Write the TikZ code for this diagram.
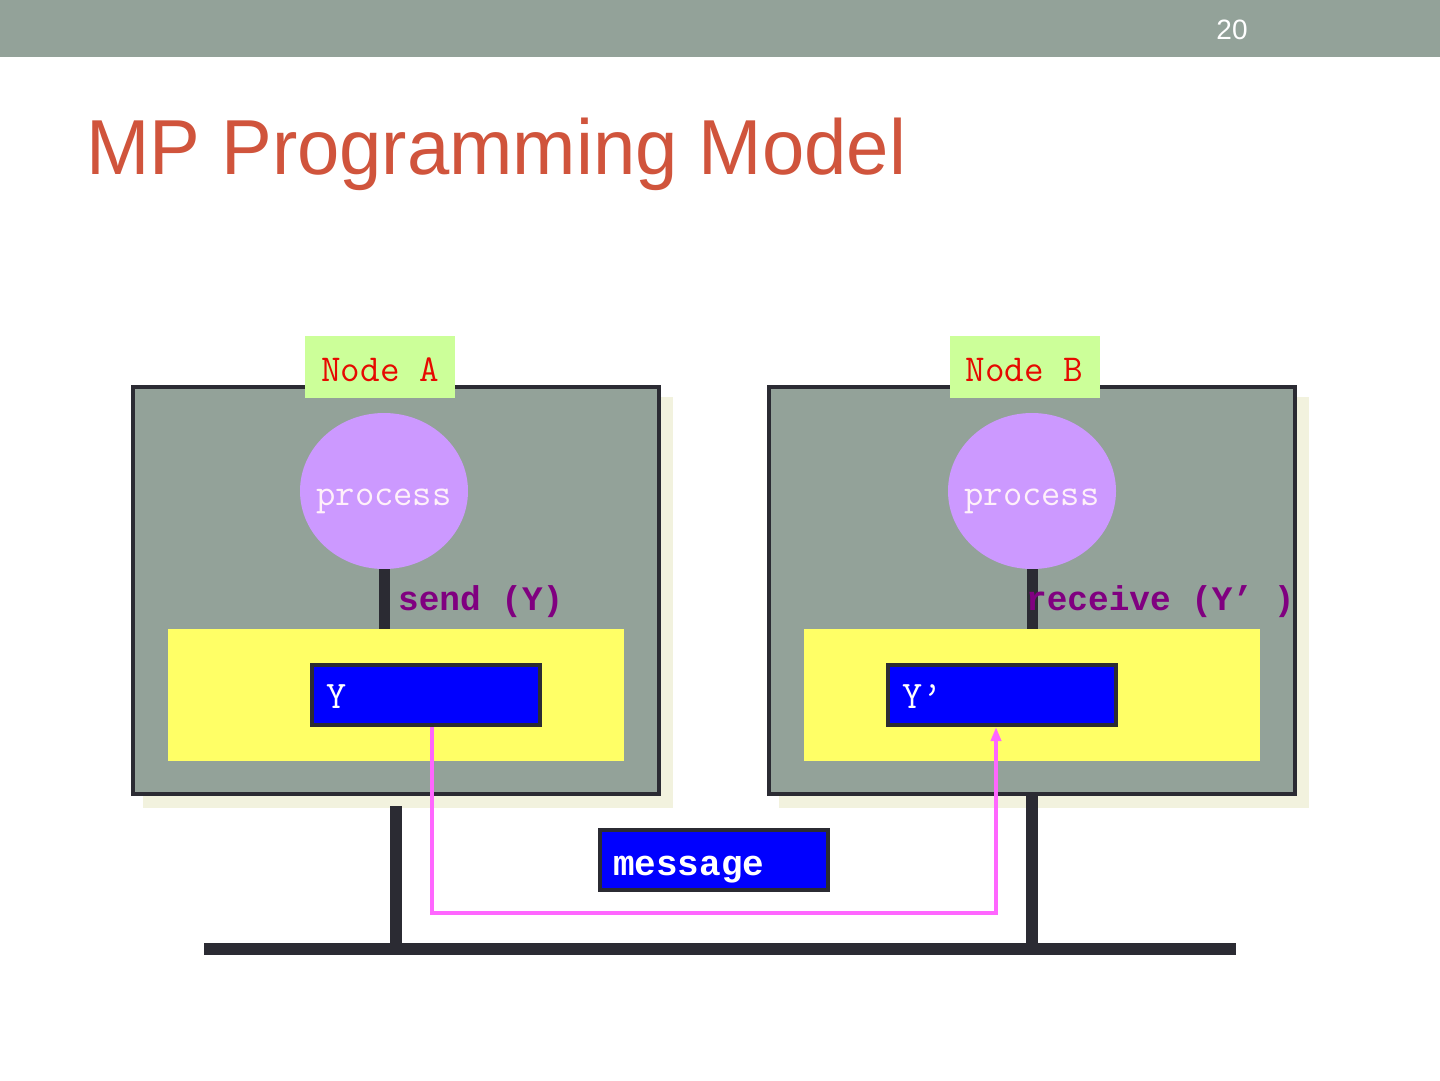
\documentclass[tikz,border=0pt]{standalone}
\usepackage{fontspec}
\usepackage{graphicx}
\newfontfamily\arialf{Liberation Sans}
\newfontfamily\courf{Liberation Mono}
\usetikzlibrary{shapes.geometric,shadows,arrows.meta}
\definecolor{barc}{RGB}{147,162,153}
\definecolor{cream}{RGB}{242,242,222}
\definecolor{darkc}{RGB}{43,43,51}
\definecolor{tagc}{RGB}{204,255,153}
\definecolor{tagtext}{RGB}{230,10,0}
\definecolor{lilac}{RGB}{204,153,255}
\definecolor{procw}{RGB}{255,240,250}
\definecolor{yel}{RGB}{255,255,102}
\definecolor{bluec}{RGB}{0,0,255}
\definecolor{purp}{RGB}{128,0,128}
\definecolor{pinkc}{RGB}{255,102,255}
\definecolor{titlec}{RGB}{208,84,60}
\begin{document}
\begin{tikzpicture}[x=1pt,y=-1pt,
  nodebox/.style={draw=darkc, line width=4.5pt, fill=barc, minimum width=526pt, minimum height=407pt, inner sep=0pt,
    drop shadow={shadow xshift=12pt, shadow yshift=-12pt, opacity=1, fill=cream, draw=cream, line width=4.5pt}},
  tag/.style={fill=tagc, minimum width=150pt, minimum height=62pt, inner sep=0pt, text=tagtext,
    font=\ttfamily\fontsize{38}{40}\selectfont, text height=28pt, text depth=0pt},
  proc/.style={ellipse, fill=lilac, minimum width=168pt, minimum height=156pt, inner sep=0pt, text=procw,
    font=\ttfamily\fontsize{37.5}{40}\selectfont, text height=28pt, text depth=0pt},
  buf/.style={fill=yel, minimum width=456pt, minimum height=132pt, inner sep=0pt},
  var/.style={draw=darkc, line width=4pt, fill=bluec, minimum width=228pt, minimum height=60pt, inner ysep=0pt,
    inner xsep=14pt, text width=200pt, align=left, text=white, font=\ttfamily\fontsize{39}{40}\selectfont,
    text height=26pt, text depth=0pt},
  act/.style={anchor=base west, inner sep=0pt, text=purp, font=\courf\bfseries\fontsize{34.4}{36}\selectfont},
  stem/.style={draw=darkc, line width=11pt},
  bus/.style={draw=darkc, line width=12pt},
  msgline/.style={draw=pinkc, line width=4pt, -{Triangle[width=10pt,length=14pt]}}
]
\useasboundingbox (0,0) rectangle (1440,1080);
\fill[white] (0,0) rectangle (1440,1080);
\fill[barc] (0,0) rectangle (1440,57);
\node[text=white, inner sep=0pt, font=\arialf\fontsize{28}{30}\selectfont] (pg) at (1232,30) {20};
\node[anchor=base west, inner sep=0pt, text=titlec, font=\arialf\fontsize{78}{80}\selectfont] (title) at (86,174)
  {\scalebox{0.975}[1]{MP Programming Model}};

% bus
\coordinate (busL) at (204,949);
\coordinate (busR) at (1236,949);

% node boxes
\node[nodebox] (boxA) at (396,590.5) {};
\node[nodebox] (boxB) at (1032,590.5) {};

\draw[bus] (busL) -- (busR);
\draw[bus] ([yshift=-10pt]boxA.south) -- (boxA.south |- busL);
\draw[bus] (boxB.south) -- (boxB.south |- busL);

\node[tag] (tagA) at (380,367) {Node A};
\node[tag] (tagB) at (1024.5,367) {Node B};

\node[proc] (pA) at (384,491) {\makebox[0pt]{process}};
\node[proc] (pB) at (1032,491) {\makebox[0pt]{process}};

\node[buf] (bufA) at (396,695) {};
\node[buf] (bufB) at (1032,695) {};

\draw[stem] (pA.south) -- (pA.south |- bufA.north);
\draw[stem] (pB.south) -- (pB.south |- bufB.north);

\node[act] (sA) at (398,610) {send (Y)};
\node[act] (rB) at (1026,610) {receive (Y’ )};

\node[var] (yA) at (426,695) {Y};
\node[var] (yB) at (1002,695) {Y’};

\node[var, inner xsep=13pt, text width=202pt, font=\courf\bfseries\fontsize{36}{38}\selectfont, text height=30pt]
  (msg) at (714,860) {message};

\coordinate (route) at (0,913);
\draw[msgline] ([xshift=6pt]yA.south) -- ([xshift=6pt]yA.south |- route) -| ([xshift=-6pt]yB.south);
\end{tikzpicture}
\end{document}
